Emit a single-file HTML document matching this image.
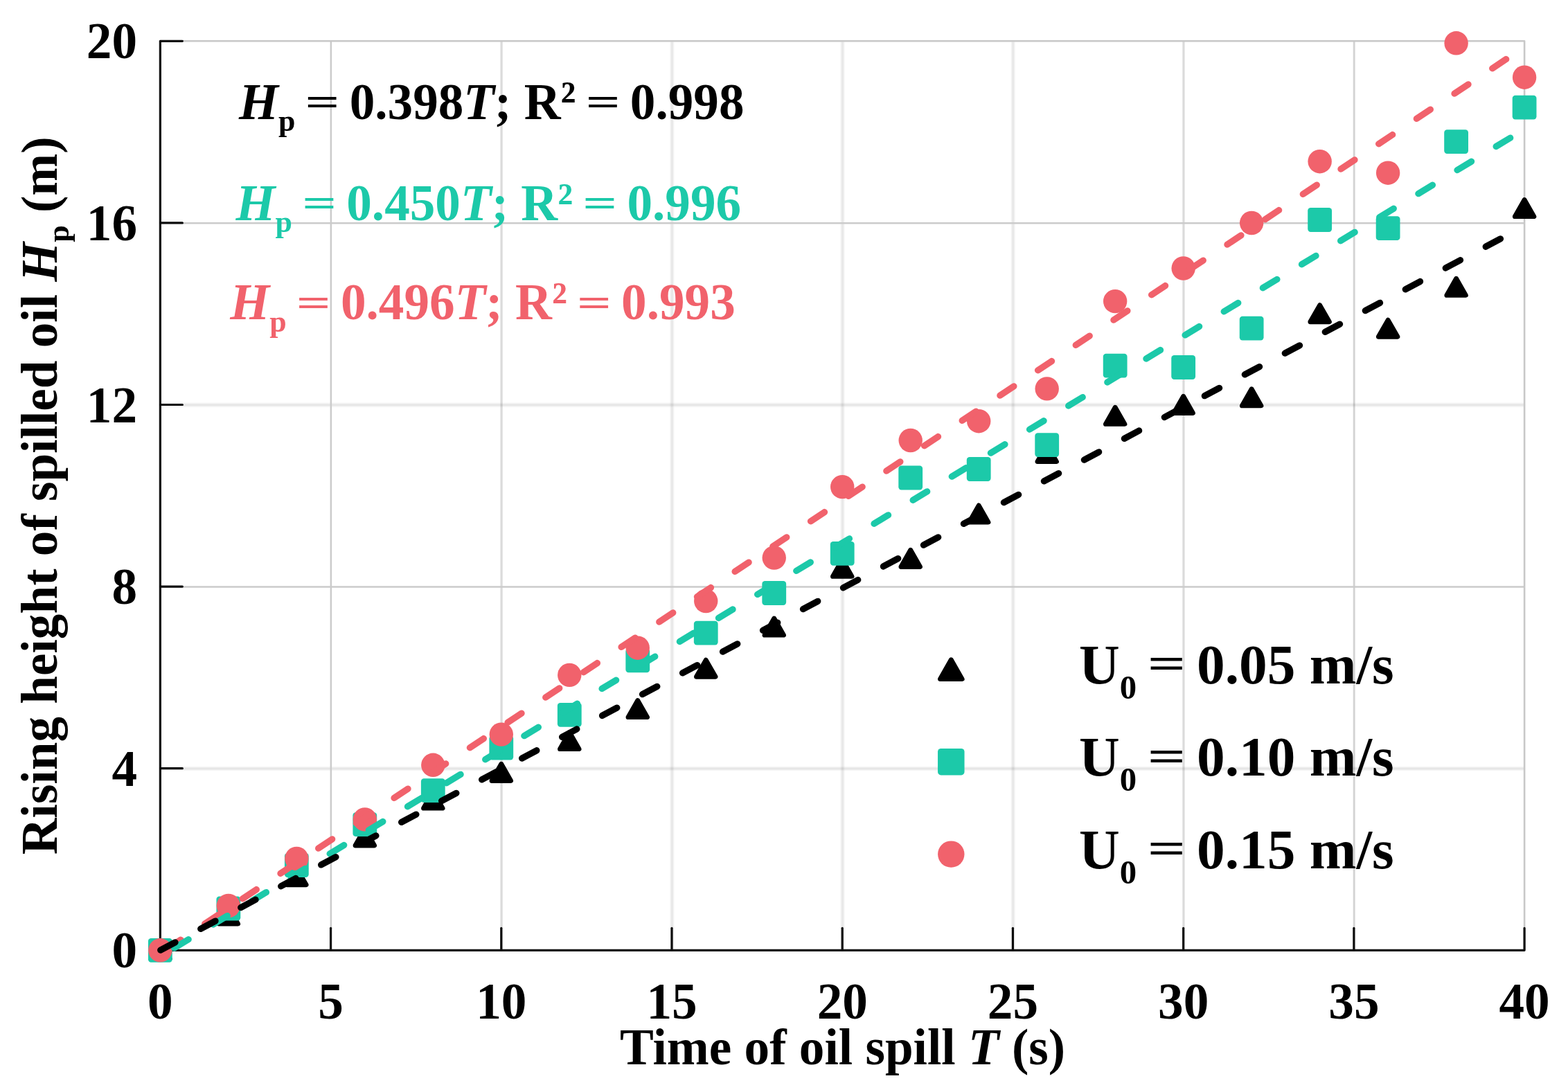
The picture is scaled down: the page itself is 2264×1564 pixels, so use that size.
<!DOCTYPE html>
<html lang="en">
<head>
<meta charset="utf-8">
<title>Rising height of spilled oil versus time of oil spill</title>
<style>
html,body{margin:0;padding:0;background:#ffffff;}
body{width:2264px;height:1564px;overflow:hidden;}
svg{display:block;filter:blur(0.75px);}
text{font-family:"Liberation Serif","Times New Roman",Times,serif;font-weight:bold;}
.it{font-style:italic;}
</style>
</head>
<body>
<svg width="2264" height="1564" viewBox="0 0 2264 1564">
<rect x="0" y="0" width="2264" height="1564" fill="#ffffff"/>
<defs>
<filter id="blurX" filterUnits="userSpaceOnUse" x="0" y="0" width="2264" height="1564"><feGaussianBlur stdDeviation="0.8"/></filter>
<filter id="blurL" filterUnits="userSpaceOnUse" x="0" y="0" width="2264" height="1564"><feGaussianBlur stdDeviation="0.6"/></filter>
<filter id="blurM" filterUnits="userSpaceOnUse" x="0" y="0" width="2264" height="1564"><feGaussianBlur stdDeviation="0.4"/></filter>
<filter id="blurD" filterUnits="userSpaceOnUse" x="0" y="0" width="2264" height="1564"><feGaussianBlur stdDeviation="0.2"/></filter>
</defs>
<g id="grid" fill="none">
<g stroke="#000000" stroke-width="3.9" stroke-opacity="0.104" filter="url(#blurX)">
<line x1="970.31" y1="59.3" x2="970.31" y2="1372.3"/>
<line x1="1216.52" y1="59.3" x2="1216.52" y2="1372.3"/>
<line x1="1462.74" y1="59.3" x2="1462.74" y2="1372.3"/>
<line x1="231.35" y1="1110" x2="2201.1" y2="1110"/>
<line x1="231.35" y1="584.8" x2="2201.1" y2="584.8"/>
</g>
<g stroke="#000000" stroke-width="3.3" stroke-opacity="0.140" filter="url(#blurL)">
<line x1="724.09" y1="59.3" x2="724.09" y2="1372.3"/>
<line x1="1708.96" y1="59.3" x2="1708.96" y2="1372.3"/>
</g>
<g stroke="#000000" stroke-width="2.9" stroke-opacity="0.172" filter="url(#blurM)">
<line x1="1955.18" y1="59.3" x2="1955.18" y2="1372.3"/>
</g>
<g stroke="#cbcbcb" stroke-width="2.5" stroke-opacity="1.000" filter="url(#blurD)">
<line x1="477.87" y1="59.3" x2="477.87" y2="1372.3"/>
<line x1="231.35" y1="847.4" x2="2201.1" y2="847.4"/>
<line x1="231.35" y1="322.2" x2="2201.1" y2="322.2"/>
</g>
<path d="M231.35 59.3 L2201.1 59.3 L2201.1 1372.3" stroke="#c8c8c8" stroke-width="2.6" stroke-linejoin="round"/>
</g>
<g id="axes" stroke="#0c0c0c" stroke-width="3.2" fill="none" stroke-linecap="round" stroke-linejoin="round">
<path d="M263.35 59.3 L231.35 59.3 L231.35 1372.3 L2201.1 1372.3 L2201.1 1340.3"/>
<line x1="477.57" y1="1371.3" x2="477.57" y2="1340.3"/>
<line x1="723.79" y1="1371.3" x2="723.79" y2="1340.3"/>
<line x1="970.01" y1="1371.3" x2="970.01" y2="1340.3"/>
<line x1="1216.22" y1="1371.3" x2="1216.22" y2="1340.3"/>
<line x1="1462.44" y1="1371.3" x2="1462.44" y2="1340.3"/>
<line x1="1708.66" y1="1371.3" x2="1708.66" y2="1340.3"/>
<line x1="1954.88" y1="1371.3" x2="1954.88" y2="1340.3"/>
<line x1="232.35" y1="1109.7" x2="263.35" y2="1109.7"/>
<line x1="232.35" y1="847.1" x2="263.35" y2="847.1"/>
<line x1="232.35" y1="584.5" x2="263.35" y2="584.5"/>
<line x1="232.35" y1="321.9" x2="263.35" y2="321.9"/>
</g>
<g id="series-005">
<path d="M231.35 1360.2 L245.15 1384.4 L217.55 1384.4 Z" fill="#000000" stroke="#000000" stroke-width="6.8" stroke-linejoin="round"/>
<path d="M329.84 1309.9 L343.64 1334.1 L316.04 1334.1 Z" fill="#000000" stroke="#000000" stroke-width="6.8" stroke-linejoin="round"/>
<path d="M428.32 1253.6 L442.12 1277.8 L414.52 1277.8 Z" fill="#000000" stroke="#000000" stroke-width="6.8" stroke-linejoin="round"/>
<path d="M526.81 1196.8 L540.61 1221 L513.01 1221 Z" fill="#000000" stroke="#000000" stroke-width="6.8" stroke-linejoin="round"/>
<path d="M625.3 1143 L639.1 1167.2 L611.5 1167.2 Z" fill="#000000" stroke="#000000" stroke-width="6.8" stroke-linejoin="round"/>
<path d="M723.79 1103.3 L737.59 1127.5 L709.99 1127.5 Z" fill="#000000" stroke="#000000" stroke-width="6.8" stroke-linejoin="round"/>
<path d="M822.27 1057.5 L836.07 1081.7 L808.48 1081.7 Z" fill="#000000" stroke="#000000" stroke-width="6.8" stroke-linejoin="round"/>
<path d="M920.76 1011.5 L934.56 1035.7 L906.96 1035.7 Z" fill="#000000" stroke="#000000" stroke-width="6.8" stroke-linejoin="round"/>
<path d="M1019.25 953.1 L1033.05 977.3 L1005.45 977.3 Z" fill="#000000" stroke="#000000" stroke-width="6.8" stroke-linejoin="round"/>
<path d="M1117.74 893 L1131.54 917.2 L1103.94 917.2 Z" fill="#000000" stroke="#000000" stroke-width="6.8" stroke-linejoin="round"/>
<path d="M1216.22 808.2 L1230.02 832.4 L1202.42 832.4 Z" fill="#000000" stroke="#000000" stroke-width="6.8" stroke-linejoin="round"/>
<path d="M1314.71 794.3 L1328.51 818.5 L1300.91 818.5 Z" fill="#000000" stroke="#000000" stroke-width="6.8" stroke-linejoin="round"/>
<path d="M1413.2 729.9 L1427 754.1 L1399.4 754.1 Z" fill="#000000" stroke="#000000" stroke-width="6.8" stroke-linejoin="round"/>
<path d="M1511.69 642.4 L1525.49 666.6 L1497.89 666.6 Z" fill="#000000" stroke="#000000" stroke-width="6.8" stroke-linejoin="round"/>
<path d="M1610.17 588.2 L1623.97 612.4 L1596.38 612.4 Z" fill="#000000" stroke="#000000" stroke-width="6.8" stroke-linejoin="round"/>
<path d="M1708.66 572.3 L1722.46 596.5 L1694.86 596.5 Z" fill="#000000" stroke="#000000" stroke-width="6.8" stroke-linejoin="round"/>
<path d="M1807.15 561.7 L1820.95 585.9 L1793.35 585.9 Z" fill="#000000" stroke="#000000" stroke-width="6.8" stroke-linejoin="round"/>
<path d="M1905.64 440.6 L1919.44 464.8 L1891.84 464.8 Z" fill="#000000" stroke="#000000" stroke-width="6.8" stroke-linejoin="round"/>
<path d="M2004.12 462.1 L2017.92 486.3 L1990.33 486.3 Z" fill="#000000" stroke="#000000" stroke-width="6.8" stroke-linejoin="round"/>
<path d="M2102.61 402.2 L2116.41 426.4 L2088.81 426.4 Z" fill="#000000" stroke="#000000" stroke-width="6.8" stroke-linejoin="round"/>
<path d="M2201.1 288.5 L2214.9 312.7 L2187.3 312.7 Z" fill="#000000" stroke="#000000" stroke-width="6.8" stroke-linejoin="round"/>
</g>
<g id="series-010">
<rect x="213.95" y="1354.9" width="34.8" height="34.8" rx="4.2" ry="4.2" fill="#1cc9a9"/>
<rect x="312.44" y="1294.6" width="34.8" height="34.8" rx="4.2" ry="4.2" fill="#1cc9a9"/>
<rect x="410.93" y="1232.1" width="34.8" height="34.8" rx="4.2" ry="4.2" fill="#1cc9a9"/>
<rect x="509.41" y="1173.3" width="34.8" height="34.8" rx="4.2" ry="4.2" fill="#1cc9a9"/>
<rect x="607.9" y="1124.3" width="34.8" height="34.8" rx="4.2" ry="4.2" fill="#1cc9a9"/>
<rect x="706.39" y="1062.6" width="34.8" height="34.8" rx="4.2" ry="4.2" fill="#1cc9a9"/>
<rect x="804.88" y="1014.9" width="34.8" height="34.8" rx="4.2" ry="4.2" fill="#1cc9a9"/>
<rect x="903.36" y="936.5" width="34.8" height="34.8" rx="4.2" ry="4.2" fill="#1cc9a9"/>
<rect x="1001.85" y="896.7" width="34.8" height="34.8" rx="4.2" ry="4.2" fill="#1cc9a9"/>
<rect x="1100.34" y="839.1" width="34.8" height="34.8" rx="4.2" ry="4.2" fill="#1cc9a9"/>
<rect x="1198.82" y="781.9" width="34.8" height="34.8" rx="4.2" ry="4.2" fill="#1cc9a9"/>
<rect x="1297.31" y="672.6" width="34.8" height="34.8" rx="4.2" ry="4.2" fill="#1cc9a9"/>
<rect x="1395.8" y="660.1" width="34.8" height="34.8" rx="4.2" ry="4.2" fill="#1cc9a9"/>
<rect x="1494.29" y="625.2" width="34.8" height="34.8" rx="4.2" ry="4.2" fill="#1cc9a9"/>
<rect x="1592.77" y="510.8" width="34.8" height="34.8" rx="4.2" ry="4.2" fill="#1cc9a9"/>
<rect x="1691.26" y="513.1" width="34.8" height="34.8" rx="4.2" ry="4.2" fill="#1cc9a9"/>
<rect x="1789.75" y="456.7" width="34.8" height="34.8" rx="4.2" ry="4.2" fill="#1cc9a9"/>
<rect x="1888.24" y="300.1" width="34.8" height="34.8" rx="4.2" ry="4.2" fill="#1cc9a9"/>
<rect x="1986.72" y="312.3" width="34.8" height="34.8" rx="4.2" ry="4.2" fill="#1cc9a9"/>
<rect x="2085.21" y="187.2" width="34.8" height="34.8" rx="4.2" ry="4.2" fill="#1cc9a9"/>
<rect x="2183.7" y="137.7" width="34.8" height="34.8" rx="4.2" ry="4.2" fill="#1cc9a9"/>
</g>
<g id="series-015">
<circle cx="231.35" cy="1372.3" r="17.2" fill="#f1626c"/>
<circle cx="329.84" cy="1308" r="17.2" fill="#f1626c"/>
<circle cx="428.32" cy="1240" r="17.2" fill="#f1626c"/>
<circle cx="526.81" cy="1183.4" r="17.2" fill="#f1626c"/>
<circle cx="625.3" cy="1104.8" r="17.2" fill="#f1626c"/>
<circle cx="723.79" cy="1060.6" r="17.2" fill="#f1626c"/>
<circle cx="822.27" cy="974.9" r="17.2" fill="#f1626c"/>
<circle cx="920.76" cy="935.7" r="17.2" fill="#f1626c"/>
<circle cx="1019.25" cy="868" r="17.2" fill="#f1626c"/>
<circle cx="1117.74" cy="805.5" r="17.2" fill="#f1626c"/>
<circle cx="1216.22" cy="703.1" r="17.2" fill="#f1626c"/>
<circle cx="1314.71" cy="636" r="17.2" fill="#f1626c"/>
<circle cx="1413.2" cy="608.2" r="17.2" fill="#f1626c"/>
<circle cx="1511.69" cy="561.4" r="17.2" fill="#f1626c"/>
<circle cx="1610.17" cy="435.1" r="17.2" fill="#f1626c"/>
<circle cx="1708.66" cy="387.5" r="17.2" fill="#f1626c"/>
<circle cx="1807.15" cy="322" r="17.2" fill="#f1626c"/>
<circle cx="1905.64" cy="233.2" r="17.2" fill="#f1626c"/>
<circle cx="2004.12" cy="249.7" r="17.2" fill="#f1626c"/>
<circle cx="2102.61" cy="62.3" r="17.2" fill="#f1626c"/>
<circle cx="2201.1" cy="111.7" r="17.2" fill="#f1626c"/>
</g>
<g id="fits" fill="none" stroke-width="9.3" stroke-linecap="round" stroke-dasharray="24 41.65">
<line x1="240.95" y1="1370.47" x2="2198" y2="70.01" stroke="#f1626c"/>
<line x1="251.65" y1="1369.09" x2="2198" y2="188.63" stroke="#1cc9a9"/>
<line x1="231.75" y1="1372.09" x2="2198" y2="328.21" stroke="#000000"/>
</g>
<g id="ticklabels" font-size="73.2" fill="#000">
<text x="198" y="1397.3" text-anchor="end">0</text>
<text x="198" y="1134.7" text-anchor="end">4</text>
<text x="198" y="872.1" text-anchor="end">8</text>
<text x="198" y="609.5" text-anchor="end">12</text>
<text x="198" y="346.9" text-anchor="end">16</text>
<text x="198" y="84.3" text-anchor="end">20</text>
<text x="231.35" y="1470.6" text-anchor="middle">0</text>
<text x="477.57" y="1470.6" text-anchor="middle">5</text>
<text x="723.79" y="1470.6" text-anchor="middle">10</text>
<text x="970.01" y="1470.6" text-anchor="middle">15</text>
<text x="1216.22" y="1470.6" text-anchor="middle">20</text>
<text x="1462.44" y="1470.6" text-anchor="middle">25</text>
<text x="1708.66" y="1470.6" text-anchor="middle">30</text>
<text x="1954.88" y="1470.6" text-anchor="middle">35</text>
<text x="2201.1" y="1470.6" text-anchor="middle">40</text>
</g>
<text id="xtitle" x="1216.6" y="1537.4" font-size="73.2" text-anchor="middle" fill="#000" xml:space="preserve">Time of oil spill <tspan class="it">T</tspan> (s)</text>
<text id="ytitle" transform="translate(81.8 715.8) rotate(-90)" font-size="73.2" text-anchor="middle" fill="#000" xml:space="preserve">Rising height of spilled oil <tspan class="it">H</tspan><tspan font-size="43.92" dy="17.5">p</tspan><tspan dy="-17.5"> (m)</tspan></text>
<text id="eq1" x="345" y="171.6" font-size="73.2" fill="#000000" xml:space="preserve"><tspan class="it">H</tspan><tspan font-size="43.92" dy="17.5">p</tspan><tspan dy="-17.5"> </tspan><tspan font-size="57" dx="-4.1" dy="-5.6" textLength="49.9" lengthAdjust="spacingAndGlyphs">=</tspan><tspan dx="-4.1" dy="5.6"> 0.398</tspan><tspan class="it">T</tspan>; R<tspan dy="-4.4">²</tspan><tspan dy="4.4"> </tspan><tspan font-size="57" dx="-4.1" dy="-5.6" textLength="49.9" lengthAdjust="spacingAndGlyphs">=</tspan><tspan dx="-4.1" dy="5.6"> 0.998</tspan></text>
<text id="eq2" x="340.6" y="317.9" font-size="73.2" fill="#1cc9a9" xml:space="preserve"><tspan class="it">H</tspan><tspan font-size="43.92" dy="17.5">p</tspan><tspan dy="-17.5"> </tspan><tspan font-size="57" dx="-4.1" dy="-5.6" textLength="49.9" lengthAdjust="spacingAndGlyphs">=</tspan><tspan dx="-4.1" dy="5.6"> 0.450</tspan><tspan class="it">T</tspan>; R<tspan dy="-4.4">²</tspan><tspan dy="4.4"> </tspan><tspan font-size="57" dx="-4.1" dy="-5.6" textLength="49.9" lengthAdjust="spacingAndGlyphs">=</tspan><tspan dx="-4.1" dy="5.6"> 0.996</tspan></text>
<text id="eq3" x="332.3" y="461.3" font-size="73.2" fill="#f1626c" xml:space="preserve"><tspan class="it">H</tspan><tspan font-size="43.92" dy="17.5">p</tspan><tspan dy="-17.5"> </tspan><tspan font-size="57" dx="-4.1" dy="-5.6" textLength="49.9" lengthAdjust="spacingAndGlyphs">=</tspan><tspan dx="-4.1" dy="5.6"> 0.496</tspan><tspan class="it">T</tspan>; R<tspan dy="-4.4">²</tspan><tspan dy="4.4"> </tspan><tspan font-size="57" dx="-4.1" dy="-5.6" textLength="49.9" lengthAdjust="spacingAndGlyphs">=</tspan><tspan dx="-4.1" dy="5.6"> 0.993</tspan></text>
<g id="legend">
<path d="M1373.3 952.8 L1389.2 980.6 L1357.4 980.6 Z" fill="#000000" stroke="#000000" stroke-width="6.8" stroke-linejoin="round"/>
<rect x="1354.05" y="1080.95" width="38.5" height="38.5" rx="4.6" ry="4.6" fill="#1cc9a9"/>
<circle cx="1373.3" cy="1233.6" r="19.2" fill="#f1626c"/>
<text x="1558" y="986.6" font-size="81.3" fill="#000" xml:space="preserve">U<tspan font-size="48.78" dy="22.2">0</tspan><tspan dy="-22.2"> </tspan><tspan font-size="63.31" dx="-4.55" dy="-6.22" textLength="55.42" lengthAdjust="spacingAndGlyphs">=</tspan><tspan dx="-4.55" dy="6.22"> 0.05 m/s</tspan></text>
<text x="1558" y="1120.1" font-size="81.3" fill="#000" xml:space="preserve">U<tspan font-size="48.78" dy="22.2">0</tspan><tspan dy="-22.2"> </tspan><tspan font-size="63.31" dx="-4.55" dy="-6.22" textLength="55.42" lengthAdjust="spacingAndGlyphs">=</tspan><tspan dx="-4.55" dy="6.22"> 0.10 m/s</tspan></text>
<text x="1558" y="1253.5" font-size="81.3" fill="#000" xml:space="preserve">U<tspan font-size="48.78" dy="22.2">0</tspan><tspan dy="-22.2"> </tspan><tspan font-size="63.31" dx="-4.55" dy="-6.22" textLength="55.42" lengthAdjust="spacingAndGlyphs">=</tspan><tspan dx="-4.55" dy="6.22"> 0.15 m/s</tspan></text>
</g>
</svg>
</body>
</html>
